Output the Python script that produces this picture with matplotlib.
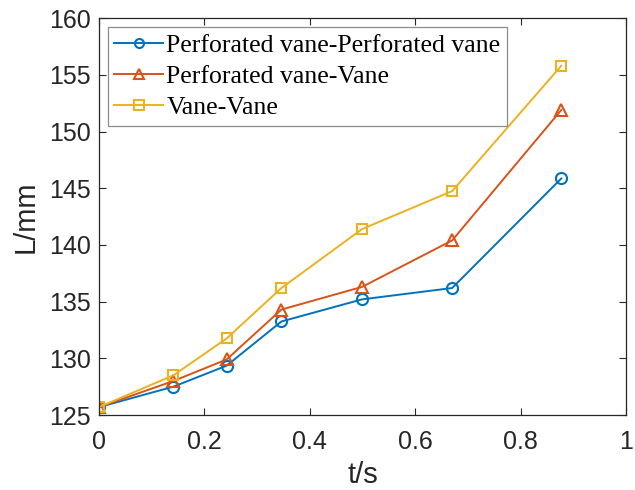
import matplotlib
matplotlib.use("Agg")
import matplotlib.pyplot as plt

t = [0, 0.141, 0.242, 0.346, 0.499, 0.670, 0.877]
pp = [125.7, 127.5, 129.35, 133.25, 135.2, 136.2, 145.86]
pv = [125.7, 128.0, 129.9, 134.3, 136.3, 140.4, 151.9]
vv = [125.7, 128.5, 131.75, 136.2, 141.4, 144.75, 155.8]
labels = ["Perforated vane-Perforated vane", "Perforated vane-Vane", "Vane-Vane"]
colors = ["#0072BD", "#D95319", "#EDB120"]
markers = ["o", "^", "s"]

fig = plt.figure(figsize=(6.35, 4.9), dpi=100)
ax = fig.add_axes([0.156, 0.153, 0.830, 0.810])
for y, lab, c, m in zip([pp, pv, vv], labels, colors, markers):
    ax.plot(t, y, color=c, marker=m, markerfacecolor="none", markeredgecolor=c,
            markersize=8 if m != "s" else 6.5, markeredgewidth=1.5, linewidth=1.4, label=lab)

ax.set_xlim(0, 1)
ax.set_ylim(125, 160)
ax.set_xticks([0, 0.2, 0.4, 0.6, 0.8, 1])
ax.set_xticklabels(["0", "0.2", "0.4", "0.6", "0.8", "1"])
ax.set_yticks(range(125, 161, 5))
for lbl in ax.get_xticklabels() + ax.get_yticklabels():
    lbl.set_family("Liberation Sans")
    lbl.set_fontsize(18)
    lbl.set_color("#262626")
ax.tick_params(direction="in", length=5, width=0.8, top=True, right=True, colors="#262626")
ax.tick_params(axis="x", pad=11)
ax.tick_params(axis="y", pad=6)
for s in ax.spines.values():
    s.set_color("#262626")
    s.set_linewidth(0.9)
ax.set_xlabel("t/s", family="Liberation Sans", fontsize=21, color="#262626", labelpad=5)
ax.set_ylabel("L/mm", family="Liberation Sans", fontsize=21, color="#262626", labelpad=7)

leg = ax.legend(loc="upper left", prop={"family": "Liberation Serif", "size": 18.5},
                handlelength=1.87, handletextpad=0.15, borderpad=0.25, labelspacing=0.33,
                borderaxespad=0.35, fancybox=False, edgecolor="#8c8c8c", framealpha=1)
leg.get_frame().set_linewidth(0.9)
for h in leg.legend_handles:
    h.set_markersize(6.5)

fig.savefig("out.png", dpi=100)
